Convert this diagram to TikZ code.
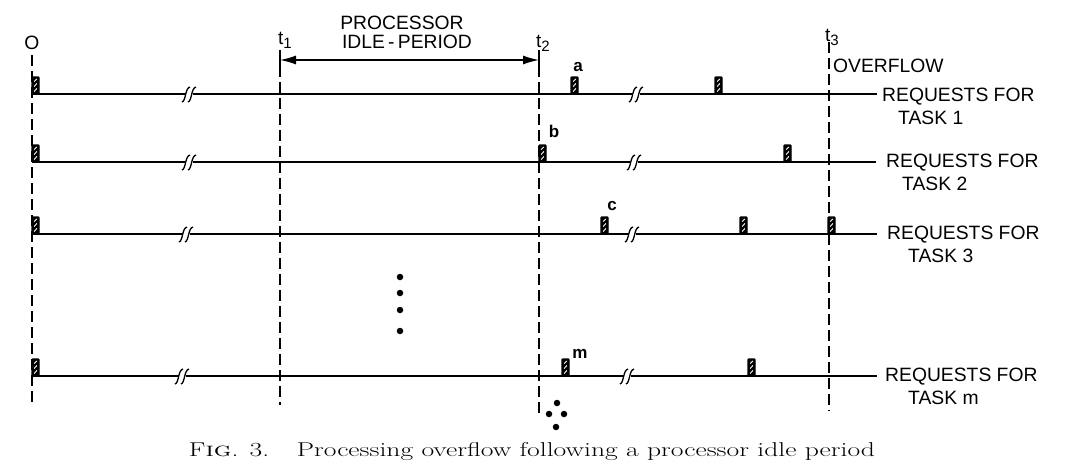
\documentclass[tikz,border=0pt]{standalone}
\usepackage{fontspec}
\usepackage{graphicx}
\newfontfamily\lab{Liberation Sans}
\usetikzlibrary{arrows.meta}
\newcommand{\tsub}[1]{t\raisebox{-4pt}{\fontsize{15}{17}\selectfont #1}}
\tikzset{
  vline/.style={line width=1.7pt, dash pattern=on 11pt off 5pt},
  tline/.style={line width=1.8pt},
  lbl/.style={font=\lab\fontsize{19.3}{22}\selectfont, inner sep=0pt},
  tl/.style={font=\lab\fontsize{19}{21}\selectfont, inner sep=0pt},
  sm/.style={font=\lab\bfseries\fontsize{17}{19}\selectfont, inner sep=0pt},
  dotn/.style={circle, fill=black, inner sep=0pt, minimum size=6.5pt},
  pulse/.pic={
    \draw[line width=1.3pt, fill=black, rounded corners=0.8pt] (0,0) rectangle (7,-17);
    \draw[white, line width=0.9pt] (2.2,-2.5)--(4.8,-5.5) (2.2,-7.5)--(4.8,-10.5) (2.2,-12.5)--(4.8,-15);
  },
  brk/.pic={
    \fill[white] (-4,-2) rectangle (3,2);
    \draw[line width=1.3pt] (-8,8) .. controls (-4,7) and (-5,-6) .. (0,-7);
    \draw[line width=1.3pt] (-2,8) .. controls (2,7) and (1,-6) .. (6,-7);
  }
}
\begin{document}
\begin{tikzpicture}[x=1pt,y=-1pt]
\useasboundingbox (0,0) rectangle (1066,466);

% vertical dashed time markers
\coordinate (v0t) at (32,55);   \coordinate (v0b) at (32,405);
\coordinate (v1t) at (280,50);  \coordinate (v1b) at (280,405);
\coordinate (v2t) at (539,50);  \coordinate (v2b) at (539,415);
\coordinate (v3t) at (829,42);  \coordinate (v3b) at (829,411);
\draw[vline] (v0t) -- (v0b);
\draw[vline] (v1t) -- (v1b);
\draw[vline] (v2t) -- (v2b);
\draw[vline] (v3t) -- (v3b);

% top labels
\node[lbl] (o) at (32,43) {O};
\node[tl, anchor=west] (t1) at (278,40) {\tsub{1}};
\node[tl, anchor=west] (t2) at (536,43) {\tsub{2}};
\node[tl, anchor=west] (t3) at (825,37) {\tsub{3}};
\node[lbl] (proc) at (402,23) {PROCESSOR};
\node[lbl] (idle) at (407,42) {IDLE\,-\,PERIOD};
\node[lbl, anchor=west] (ovf) at (833,66) {OVERFLOW};

% idle period arrow
\coordinate (a1) at (280,60);
\coordinate (a2) at (539,60);
\draw[line width=1.7pt] (280,50) -- (280,70);
\draw[line width=1.7pt] (539,50) -- (539,70);
\draw[line width=1.3pt, {Latex[length=16pt,width=9pt]}-{Latex[length=16pt,width=9pt]}] (a1) -- (a2);

% task lines
\coordinate (s1) at (32,94);  \coordinate (e1) at (877,94);
\coordinate (s2) at (32,162); \coordinate (e2) at (876,162);
\coordinate (s3) at (32,234); \coordinate (e3) at (877,234);
\coordinate (sm) at (32,376); \coordinate (em) at (877,376);
\draw[tline] (s1) -- (e1);
\draw[tline] (s2) -- (e2);
\draw[tline] (s3) -- (e3);
\draw[tline] (sm) -- (em);

% breaks
\pic at (190,94) {brk};  \pic at (637,94) {brk};
\pic at (190,162) {brk}; \pic at (635,162) {brk};
\pic at (187,234) {brk}; \pic at (633,234) {brk};
\pic at (183,376) {brk}; \pic at (628,376) {brk};

% pulses
\pic at (32,94) {pulse};  \pic at (571,94) {pulse};  \pic at (715,94) {pulse};
\pic at (32,162) {pulse}; \pic at (539,162) {pulse}; \pic at (784,162) {pulse};
\pic at (32,234) {pulse}; \pic at (601,234) {pulse}; \pic at (740,234) {pulse}; \pic at (828,234) {pulse};
\pic at (32,376) {pulse}; \pic at (562,376) {pulse}; \pic at (748,376) {pulse};

% pulse labels
\node[sm] (la) at (578,67) {a};
\node[sm] (lb) at (554,131) {b};
\node[sm] (lc) at (612,206) {c};
\node[sm] (lm) at (580,354) {m};

% right labels
\node[lbl, anchor=west] (r1) at (882,97) {REQUESTS FOR};
\node[lbl, anchor=west] (k1) at (898,118) {TASK 1};
\node[lbl, anchor=west] (r2) at (886,163) {REQUESTS FOR};
\node[lbl, anchor=west] (k2) at (902,184) {TASK 2};
\node[lbl, anchor=west] (r3) at (887,235) {REQUESTS FOR};
\node[lbl, anchor=west] (k3) at (908,256) {TASK 3};
\node[lbl, anchor=west] (rm) at (885,377) {REQUESTS FOR};
\node[lbl, anchor=west] (km) at (908,398) {TASK m};

% vertical ellipsis dots
\node[dotn] (d1) at (400,277) {};
\node[dotn] (d2) at (400,293) {};
\node[dotn] (d3) at (400,310) {};
\node[dotn] (d4) at (400,331) {};

% diamond dots below t2
\node[dotn] (e1d) at (557,403) {};
\node[dotn] (e2d) at (549,414) {};
\node[dotn] (e3d) at (564,414) {};
\node[dotn] (e4d) at (556,427) {};

% caption
\node[inner sep=0pt, font=\fontsize{20}{23}\selectfont] (cap) at (532,452)
  {\resizebox{686pt}{\height}{F\textsc{ig}. 3.\quad Processing overflow following a processor idle period}};
\end{tikzpicture}
\end{document}
